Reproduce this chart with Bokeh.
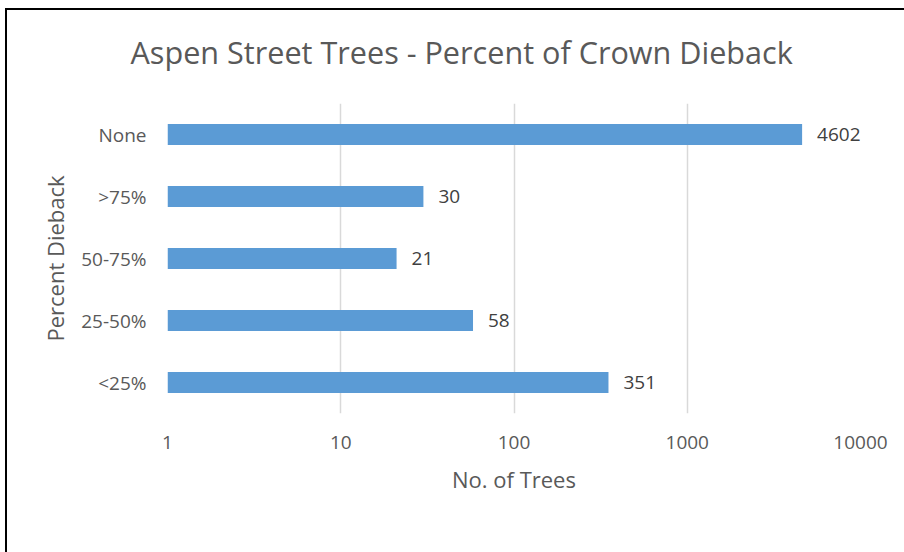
from bokeh.plotting import figure
from bokeh.models import ColumnDataSource, LabelSet, FixedTicker, CustomJSTickFormatter
from bokeh.core.properties import value
from bokeh.embed import file_html
from bokeh.resources import INLINE

title_text = "Aspen Street Trees - Percent of Crown Dieback"
categories = ["<25%", "25-50%", "50-75%", ">75%", "None"]
trees = [351, 58, 21, 30, 4602]
x_ticks = [1, 10, 100, 1000, 10000]

src = ColumnDataSource(dict(cat=categories, val=trees, lab=[str(v) for v in trees],
                            left=[1] * len(trees)))

FONT = "Open Sans"
GREY = "#595959"

p = figure(width=904, height=557, y_range=categories, x_axis_type="log",
           x_range=(1, 10000), output_backend="svg", toolbar_location=None,
           title=title_text,
           min_border_left=167, min_border_right=44, min_border_top=108,
           min_border_bottom=139)
p.styles = {"margin-top": "-5px",
            "box-shadow": "inset 5px 13px 0 0 white, inset 7px 15px 0 0 black"}
p.border_fill_alpha = 0

p.hbar(y="cat", left="left", right="val", height=0.34, source=src,
       color="#5B9BD5", line_color=None)

labels = LabelSet(x="val", y="cat", text="lab", source=src, x_offset=15,
                  text_baseline="middle", text_font=value(FONT),
                  text_font_size="19px", text_color="#404040")
p.add_layout(labels)

p.title.text_font = FONT
p.title.text_font_size = "30.6px"
p.title.text_font_style = "normal"
p.title.text_color = GREY
p.title.align = "left"
p.title.offset = -37
p.title.standoff = 62

p.xaxis.ticker = FixedTicker(ticks=x_ticks, minor_ticks=[])
p.xaxis.formatter = CustomJSTickFormatter(code="return tick.toFixed(0);")
for ax in (p.xaxis[0], p.yaxis[0]):
    ax.axis_line_color = None
    ax.major_tick_line_color = None
    ax.minor_tick_line_color = None
    ax.major_label_text_font = FONT
    ax.major_label_text_font_size = "19px"
    ax.major_label_text_color = GREY
    ax.axis_label_text_font = FONT
    ax.axis_label_text_font_size = "22px"
    ax.axis_label_text_font_style = "normal"
    ax.axis_label_text_color = GREY

p.xaxis.axis_label = "No. of Trees"
p.yaxis.axis_label = "Percent Dieback"
p.xaxis.major_label_standoff = 16
p.yaxis.major_label_standoff = 15
p.xaxis.axis_label_standoff = 12
p.yaxis.axis_label_standoff = 8

p.xgrid.grid_line_color = "#D9D9D9"
p.xgrid.grid_line_width = 1.5
p.ygrid.grid_line_color = None
p.outline_line_color = None

open("out.html", "w").write(file_html(p, INLINE))
